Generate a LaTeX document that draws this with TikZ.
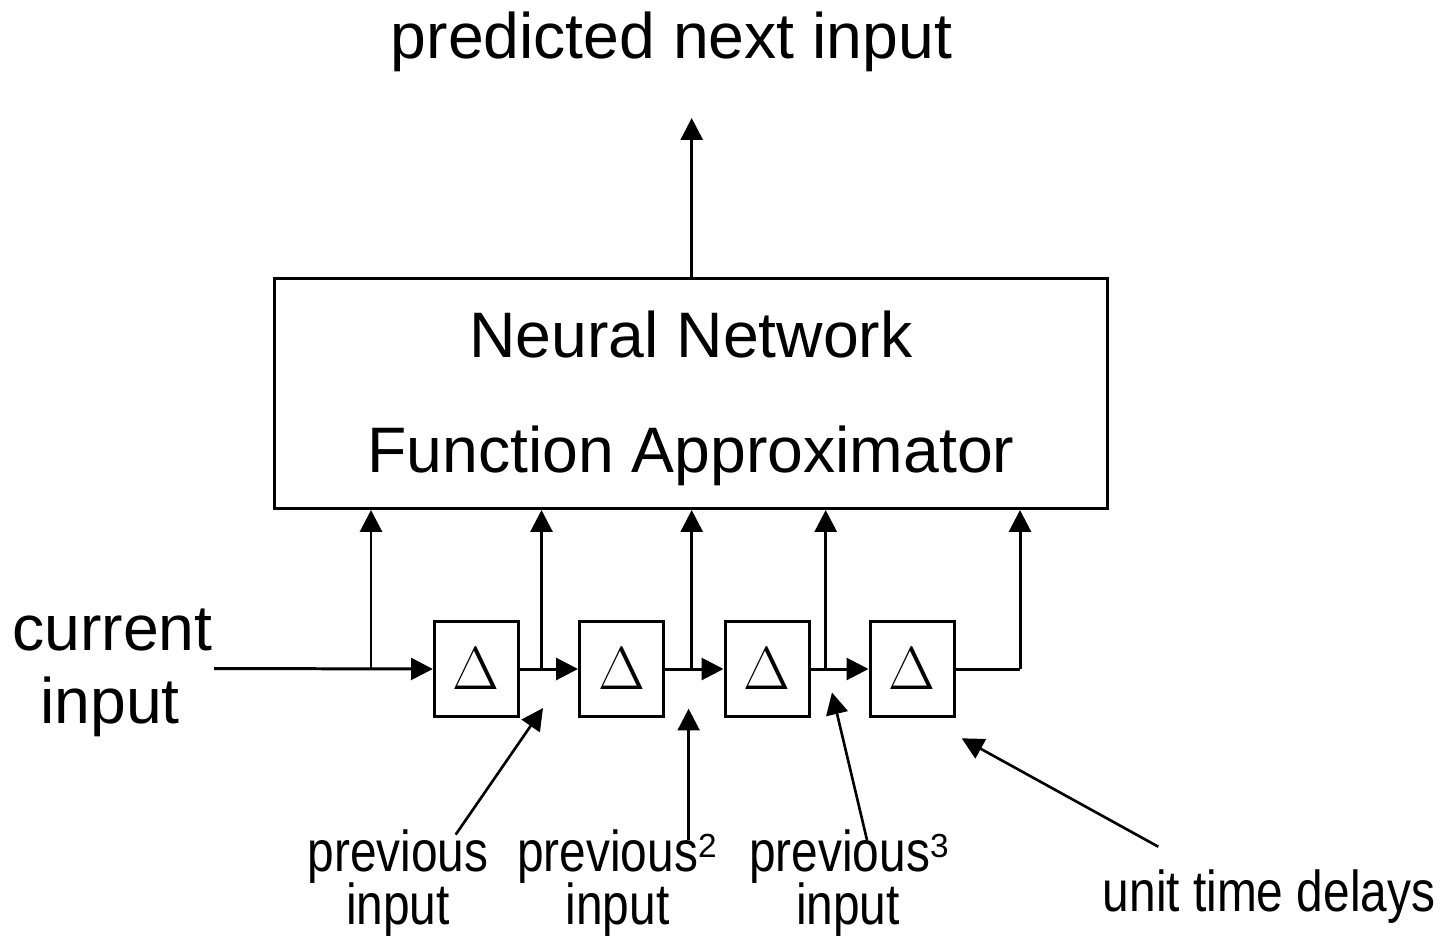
\documentclass[tikz,border=0pt]{standalone}
\usepackage[no-math]{fontspec}
\setmainfont{Liberation Sans}
\newfontfamily\narrowfont[FakeStretch=0.83]{Liberation Sans}
\usetikzlibrary{arrows.meta}
\newcommand{\powr}[1]{\raisebox{0.45ex}{\normalfont\fontsize{9.5}{11}\selectfont #1}}
\tikzset{>={Triangle[length=6.2pt,width=6.2pt]}}
\tikzset{bigtxt/.style={font=\fontsize{18.3}{22}\selectfont, inner sep=0pt, anchor=base},
  smalltxt/.style={font=\narrowfont\fontsize{16.4}{19}\selectfont, inner sep=0pt, anchor=base},
  delaybox/.style={draw, minimum width=0.84cm, minimum height=0.95cm, inner sep=0pt, font=\fontsize{18.5}{20}\selectfont}}

\begin{document}
\begin{tikzpicture}[line width=0.85pt]
\useasboundingbox (0,0) rectangle (14.43,-9.35);
\node[bigtxt] (pred) at (6.715,-0.583) {predicted next input};
\node[draw, minimum width=8.33cm, minimum height=2.30cm] (nn) at (6.91,-3.935) {};
\node[bigtxt] (nn1) at (6.91,-3.577) {Neural Network};
\node[bigtxt] (nn2) at (6.91,-4.72) {Function Approximator};
\node[bigtxt] (cur1) at (1.125,-6.50) {current};
\node[bigtxt] (cur2) at (1.10,-7.23) {input};
\foreach \i/\x in {1/4.763, 2/6.215, 3/7.67, 4/9.12}
  \node[delaybox] (d\i) at (\x,-6.69) {$\Delta$};
\coordinate (top) at (6.917,-1.18);
\coordinate (start) at (2.14,-6.685);
\coordinate (b0) at (3.71,-6.685);
\foreach \i/\x in {1/5.415, 2/6.917, 3/8.257, 4/10.20}
  \coordinate (b\i) at (\x,-6.69);
\draw[->] (nn.north -| top) -- (top);
\draw[->] (start) -- (d1.west);
\foreach \i/\j in {1/2, 2/3, 3/4}
  \draw[->] (d\i.east) -- (d\j.west);
\draw (d4.east) -- (b4);
\foreach \i in {0,...,4}
  \draw[->] (b\i) -- (b\i |- nn.south);
\node[smalltxt] (p1a) at (3.98,-8.71) {previous};
\node[smalltxt] (p1b) at (3.98,-9.24) {input};
\node[smalltxt] (p2a) at (6.17,-8.71) {previous\powr{2}};
\node[smalltxt] (p2b) at (6.175,-9.24) {input};
\node[smalltxt] (p3a) at (8.49,-8.71) {previous\powr{3}};
\node[smalltxt] (p3b) at (8.48,-9.24) {input};
\node[smalltxt] (ud) at (12.69,-9.11) {unit time delays};
\coordinate (s1) at (4.557,-8.346);
\coordinate (t1) at (5.43,-7.08);
\coordinate (s2) at (6.886,-8.40);
\coordinate (t2) at (6.886,-7.086);
\coordinate (s3) at (8.67,-8.40);
\coordinate (t3) at (8.32,-6.925);
\coordinate (s4) at (11.583,-8.467);
\coordinate (t4) at (9.617,-7.383);
\foreach \i in {1,...,4}
  \draw[->, line width=0.75pt] (s\i) -- (t\i);
\end{tikzpicture}
\end{document}
